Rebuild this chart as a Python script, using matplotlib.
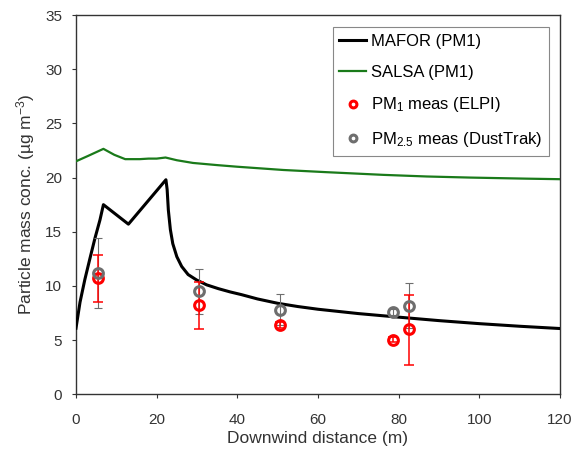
import numpy as np
import matplotlib.pyplot as plt

plt.rcParams['font.family'] = ['Liberation Sans', 'DejaVu Sans']
plt.rcParams['mathtext.fontset'] = 'custom'
plt.rcParams['mathtext.rm'] = 'Liberation Sans'
plt.rcParams['mathtext.it'] = 'Liberation Sans:italic'

# Model curves
mafor_x = [0, 1.0, 2.2, 3.5, 4.7, 5.95, 6.8, 13.0, 22.3, 22.6, 22.9, 23.4, 24.0, 25.0, 26.2,
           27.8, 29.9, 32.4, 35.3, 38.2, 41, 45, 50, 55, 60, 70, 80, 90, 100, 110, 120]
mafor_y = [6.1, 8.5, 10.6, 12.6, 14.4, 16.1, 17.5, 15.7, 19.8, 18.9, 17.0, 15.2, 13.9, 12.7, 11.8,
           11.05, 10.55, 10.1, 9.75, 9.45, 9.2, 8.8, 8.4, 8.1, 7.85, 7.45, 7.12, 6.8, 6.52, 6.28, 6.07]

salsa_x = [0, 3, 6.8, 9.5, 12.2, 15.8, 18, 20, 22.2, 25, 29, 35, 40, 51.4, 62, 76.2, 87,
           97.7, 111.7, 120]
salsa_y = [21.5, 22.0, 22.65, 22.1, 21.7, 21.7, 21.75, 21.75, 21.85, 21.6, 21.35, 21.15, 21.0,
           20.7, 20.5, 20.25, 20.1, 20.0, 19.9, 19.85]

# Measurements
pm1_x = [5.5, 30.5, 50.5, 78.5, 82.5]
pm1_y = [10.7, 8.2, 6.4, 5.05, 6.0]
pm1_lo = [8.5, 6.0, 6.1, 4.8, 2.7]
pm1_hi = [12.9, 10.4, 6.7, 5.3, 9.2]

pm25_x = [5.5, 30.5, 50.5, 78.5, 82.5]
pm25_y = [11.2, 9.5, 7.8, 7.6, 8.15]
pm25_lo = [8.0, 7.4, 6.4, 7.3, 6.1]
pm25_hi = [14.4, 11.6, 9.3, 7.9, 10.25]

fig = plt.figure(figsize=(5.77, 4.51), dpi=100)
ax = fig.add_axes([0.1317, 0.1257, 0.8388, 0.8410])

ax.plot(mafor_x, mafor_y, color='black', lw=2.2, label='MAFOR (PM1)', zorder=3,
        solid_joinstyle='round')
ax.plot(salsa_x, salsa_y, color='#1a7a1a', lw=1.6, label='SALSA (PM1)', zorder=3)

pm1_err = [np.array(pm1_y) - np.array(pm1_lo), np.array(pm1_hi) - np.array(pm1_y)]
pm25_err = [np.array(pm25_y) - np.array(pm25_lo), np.array(pm25_hi) - np.array(pm25_y)]

ax.errorbar(pm25_x, pm25_y, yerr=pm25_err, fmt='none', ecolor='#6e6e6e', elinewidth=0.8,
            capsize=3, capthick=0.8, zorder=4)
ax.errorbar(pm1_x, pm1_y, yerr=pm1_err, fmt='none', ecolor='red', elinewidth=1.1,
            capsize=3.5, capthick=1.1, zorder=4)
ax.plot(pm1_x, pm1_y, 'o', mfc='none', mec='red', mew=2.2, ms=7, ls='none',
        label=r'PM$_{\mathrm{1}}$ meas (ELPI)', zorder=5)
ax.plot(pm25_x, pm25_y, 'o', mfc='none', mec='#6e6e6e', mew=2.2, ms=7, ls='none',
        label=r'PM$_{\mathrm{2.5}}$ meas (DustTrak)', zorder=5)

ax.set_xlim(0, 120)
ax.set_ylim(0, 35)
ax.set_xticks(np.arange(0, 121, 20))
ax.set_yticks(np.arange(0, 36, 5))
ax.tick_params(direction='out', length=3, labelsize=11, colors='#333333')
ax.tick_params(axis='x', pad=10.5)
ax.tick_params(axis='y', pad=7)
for s in ax.spines.values():
    s.set_color('#333333')
    s.set_linewidth(1.0)

ax.set_xlabel('Downwind distance (m)', fontsize=12.5, color='#333333', labelpad=3)
ax.set_ylabel('Particle mass conc. (µg m$^{-3}$)', fontsize=12.5, color='#333333', labelpad=6)

leg = ax.legend(loc='upper right', bbox_to_anchor=(0.977, 0.968), borderaxespad=0,
                fontsize=12, handlelength=1.6, handletextpad=0.3, labelspacing=0.95,
                borderpad=0.4, fancybox=False, framealpha=1, edgecolor='#888888',
                markerscale=0.7)
leg.get_frame().set_linewidth(0.8)

fig.savefig('out.png', dpi=100)
